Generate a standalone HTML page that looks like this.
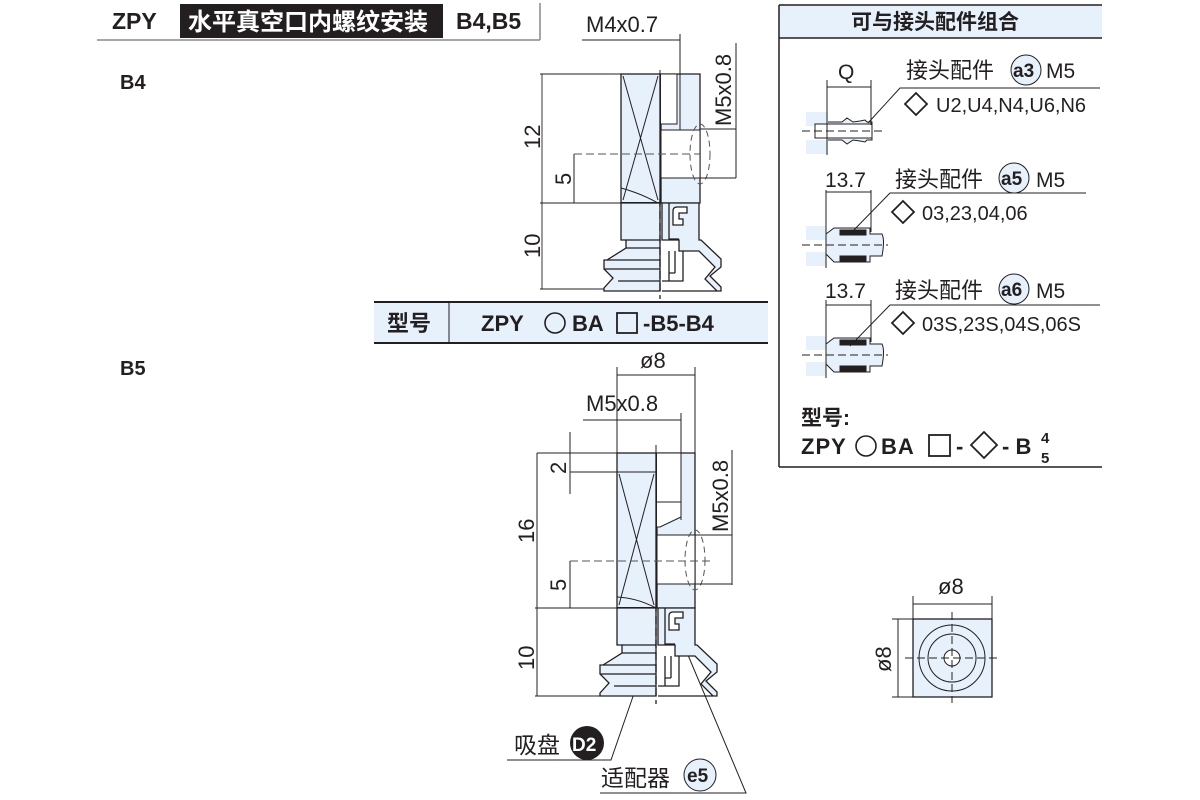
<!DOCTYPE html>
<html><head><meta charset="utf-8"><style>
html,body{margin:0;padding:0;background:#fff}
svg{display:block}
text{font-family:"Liberation Sans","Noto Sans CJK SC",sans-serif;fill:#231f20}
.b{font-weight:bold}
</style></head><body>
<svg width="1200" height="800" viewBox="0 0 1200 800" xmlns="http://www.w3.org/2000/svg">
<defs>
<g id="lower" stroke="#231f20" stroke-width="1.3" fill="#e6f1fb">
  <path d="M0,0 H39 V88 H-17 V85 L-8,75 L-17,66 V57 L-14,57 L5,45 V37 H0 Z"/>
  <line x1="5" y1="37" x2="39" y2="37"/>
  <line x1="5" y1="45" x2="39" y2="45"/>
  <line x1="-14" y1="57" x2="39" y2="57"/>
  <line x1="-17" y1="66" x2="39" y2="66"/>
  <line x1="-3" y1="78" x2="39" y2="78"/>
  <path d="M41,0 H78 V37 L80,37 L100,56 V64 L89,73 L100,84 V88 L96,88 L84,76 L94,64 L78,48 H58 V37 H41 Z" fill="#e6f1fb"/>
  <path d="M48,0 V36 H58" fill="none"/>
  <path d="M52,8 Q52,4 56,4 H66 V10 H58 V16 H62 V22 H52 Z" fill="#fff"/>
  <path d="M48,48 V78 H41 M54,48 V70 M48,70 H54 M48,78 H62 V48" fill="none"/>
  <line x1="41" y1="88" x2="96" y2="88"/>
  <line x1="39" y1="-4" x2="39" y2="96" stroke-dasharray="8,4" fill="none"/>
</g>
</defs>

<!-- header -->
<text x="112" y="29" font-size="23" class="b">ZPY</text>
<rect x="180" y="4" width="263" height="34" fill="#231f20"/>
<text x="188" y="30" font-size="24" class="b" style="fill:#fff">水平真空口内螺纹安装</text>
<text x="456" y="29" font-size="23" class="b">B4,B5</text>
<line x1="97" y1="40" x2="540" y2="40" stroke="#888" stroke-width="1.5"/>
<line x1="540" y1="3" x2="540" y2="40" stroke="#888" stroke-width="1.5"/>
<text x="120" y="89" font-size="20" class="b">B4</text>
<text x="120" y="375" font-size="20" class="b">B5</text>

<!-- ===== B4 drawing ===== -->
<g stroke="#231f20" stroke-width="1" fill="none">
  <rect x="621" y="74" width="39" height="129" fill="#e6f1fb" stroke-width="1.3"/>
  <line x1="623" y1="76" x2="658" y2="200"/><line x1="658" y1="76" x2="623" y2="200"/>
  <path d="M621,188 Q640,193 658,203" />
  <line x1="621" y1="203" x2="660" y2="203" stroke-width="2"/>
  <path d="M661,74 H700 V203 H661 Z" fill="#e6f1fb" stroke-width="1.3"/>
  <path d="M661,74 H677 V124 H661" fill="#fff"/>
  <rect x="661" y="130" width="39" height="48" fill="#fff"/>
  <line x1="661" y1="130" x2="700" y2="130"/>
  <ellipse cx="700" cy="154" rx="10" ry="30" stroke-dasharray="6,4" stroke="#555"/>
  <line x1="660" y1="70" x2="660" y2="203" stroke-dasharray="8,4"/>
  <line x1="542" y1="74" x2="542" y2="289" stroke-width="0.9"/>
  <line x1="540" y1="74" x2="621" y2="74"/><line x1="540" y1="203" x2="621" y2="203"/><line x1="540" y1="289" x2="640" y2="289"/>
  <line x1="574" y1="154" x2="574" y2="203"/>
  <line x1="574" y1="154" x2="700" y2="154" stroke-dasharray="8,4" stroke="#555"/>
  <line x1="582" y1="40" x2="680" y2="40"/><line x1="680" y1="34" x2="680" y2="130"/>
  <line x1="736" y1="43" x2="736" y2="178"/>
  <line x1="700" y1="129" x2="736" y2="129"/><line x1="700" y1="178" x2="736" y2="178"/>
</g>
<use href="#lower" x="621" y="203"/>
<text x="586" y="32" font-size="22">M4x0.7</text>
<text transform="translate(731,126) rotate(-90)" font-size="22">M5x0.8</text>
<text transform="translate(540,149) rotate(-90)" font-size="22">12</text>
<text transform="translate(571,185) rotate(-90)" font-size="22">5</text>
<text transform="translate(540,258) rotate(-90)" font-size="22">10</text>

<!-- model bar -->
<rect x="374" y="302" width="394" height="41" fill="#e6f1fb"/>
<line x1="374" y1="302" x2="768" y2="302" stroke="#231f20" stroke-width="2"/>
<line x1="374" y1="343" x2="768" y2="343" stroke="#231f20" stroke-width="2"/>
<line x1="449" y1="302" x2="449" y2="343" stroke="#231f20" stroke-width="1"/>
<text x="387" y="331" font-size="22" class="b">型号</text>
<text x="481" y="331" font-size="22" class="b">ZPY</text>
<circle cx="555" cy="323" r="10" fill="none" stroke="#231f20" stroke-width="1.6"/>
<text x="572" y="331" font-size="22" class="b">BA</text>
<rect x="617" y="313" width="20" height="20" fill="none" stroke="#231f20" stroke-width="1.8"/>
<text x="643" y="331" font-size="22" class="b">-B5-B4</text>

<!-- ===== B5 drawing ===== -->
<g stroke="#231f20" stroke-width="1" fill="none">
  <rect x="617" y="453" width="39" height="155" fill="#e6f1fb" stroke-width="1.3"/>
  <line x1="617" y1="472" x2="656" y2="472"/>
  <line x1="619" y1="474" x2="654" y2="605"/><line x1="654" y1="474" x2="619" y2="605"/>
  <path d="M617,597 Q637,598 656,608"/>
  <line x1="617" y1="608" x2="656" y2="608" stroke-width="2"/>
  <path d="M657,453 H695 V608 H657 Z" fill="#e6f1fb" stroke-width="1.3"/>
  <path d="M657,453 H681 V517 L660,527 H657" fill="#fff"/>
  <line x1="657" y1="502" x2="681" y2="502"/>
  <rect x="657" y="535" width="38" height="49" fill="#fff"/>
  <ellipse cx="695" cy="560" rx="10" ry="30" stroke-dasharray="6,4" stroke="#555"/>
  <line x1="656" y1="445" x2="656" y2="608" stroke-dasharray="8,4"/>
  <line x1="617" y1="367" x2="617" y2="453"/><line x1="695" y1="367" x2="695" y2="453"/>
  <line x1="617" y1="375" x2="695" y2="375"/>
  <line x1="583" y1="420" x2="681" y2="420"/><line x1="681" y1="413" x2="681" y2="520"/>
  <line x1="570" y1="432" x2="570" y2="494"/>
  <line x1="537" y1="453" x2="617" y2="453"/><line x1="570" y1="472" x2="617" y2="472"/>
  <line x1="537" y1="453" x2="537" y2="696"/>
  <line x1="535" y1="608" x2="617" y2="608"/><line x1="535" y1="696" x2="640" y2="696"/>
  <line x1="570" y1="561" x2="570" y2="608"/>
  <line x1="570" y1="561" x2="710" y2="561" stroke-dasharray="8,4" stroke="#555"/>
  <line x1="732" y1="450" x2="732" y2="585"/>
  <line x1="695" y1="535" x2="732" y2="535"/><line x1="695" y1="584" x2="732" y2="584"/>
  <polyline points="507,760 611,760 638,682"/>
  <polyline points="600,793 746,793 680,636"/>
</g>
<use href="#lower" x="617" y="608"/>
<text x="640" y="368" font-size="22">ø8</text>
<text x="586" y="411" font-size="22">M5x0.8</text>
<text transform="translate(728,532) rotate(-90)" font-size="22">M5x0.8</text>
<text transform="translate(566,474) rotate(-90)" font-size="22">2</text>
<text transform="translate(534,543) rotate(-90)" font-size="22">16</text>
<text transform="translate(566,591) rotate(-90)" font-size="22">5</text>
<text transform="translate(534,670) rotate(-90)" font-size="22">10</text>
<text x="514" y="753" font-size="23">吸盘</text>
<circle cx="587" cy="743" r="17" fill="#231f20"/>
<text x="572" y="751" font-size="19" class="b" style="fill:#fff">D2</text>
<text x="601" y="786" font-size="23">适配器</text>
<circle cx="700" cy="775" r="16" fill="#e6f1fb" stroke="#231f20" stroke-width="1"/>
<text x="687" y="782" font-size="19" class="b">e5</text>

<!-- ===== right panel ===== -->
<rect x="779" y="5" width="323" height="33" fill="#e6f1fb"/>
<line x1="779" y1="5" x2="1102" y2="5" stroke="#231f20" stroke-width="1.5"/>
<line x1="779" y1="38" x2="1102" y2="38" stroke="#231f20" stroke-width="1.5"/>
<line x1="779" y1="5" x2="779" y2="467" stroke="#231f20" stroke-width="1.5"/>
<line x1="779" y1="467" x2="1102" y2="467" stroke="#231f20" stroke-width="1.5"/>
<text x="851" y="29" font-size="21" class="b">可与接头配件组合</text>

<!-- a3 -->
<g stroke="#231f20" stroke-width="1" fill="none">
  <rect x="806" y="112" width="22" height="14" fill="#e6f1fb" stroke="none"/>
  <rect x="806" y="140" width="22" height="14" fill="#e6f1fb" stroke="none"/>
  <path d="M828,122 H842 L847,118 L853,122 L860,121 L865,120 L867,122 H872 V140 H867 L865,142 L860,141 L853,140 L847,144 L842,140 H828" fill="#e6f1fb"/>
  <rect x="815" y="124" width="57" height="14" fill="#fff"/>
  <line x1="802" y1="131" x2="885" y2="131" stroke-dasharray="8,4"/>
  <line x1="827" y1="80" x2="827" y2="155"/><line x1="871" y1="80" x2="871" y2="125"/>
  <line x1="827" y1="87" x2="871" y2="87"/>
  <polyline points="1100,88 900,88 868,123"/>
</g>
<text x="838" y="79" font-size="21">Q</text>
<text x="906" y="78" font-size="22">接头配件</text>
<circle cx="1026" cy="70" r="15" fill="#e6f1fb" stroke="#231f20"/>
<text x="1013" y="77" font-size="19" class="b">a3</text>
<text x="1046" y="78" font-size="21">M5</text>
<path d="M905,104 L916,93 L927,104 L916,115 Z" fill="none" stroke="#231f20" stroke-width="1.8"/>
<text x="936" y="112" font-size="20">U2,U4,N4,U6,N6</text>

<!-- a5 / a6 -->
<g stroke="#231f20" stroke-width="1" fill="none">
  <rect x="806" y="226" width="20" height="14" fill="#e6f1fb" stroke="none"/>
  <rect x="806" y="252" width="20" height="14" fill="#e6f1fb" stroke="none"/>
  <path d="M826,234 L834,228 H870 V234 H882 Q885,240 882,256 H870 V262 H834 L826,254 Z" fill="#e6f1fb"/>
  <rect x="840" y="230" width="26" height="5" fill="#231f20"/><rect x="840" y="256" width="26" height="5" fill="#231f20"/>
  <line x1="802" y1="245" x2="888" y2="245" stroke-dasharray="8,4"/>
  <line x1="826" y1="190" x2="826" y2="268"/><line x1="871" y1="190" x2="871" y2="232"/>
  <line x1="826" y1="192" x2="871" y2="192"/>
  <polyline points="1086,193 890,193 850,234"/>
  <rect x="806" y="336" width="20" height="14" fill="#e6f1fb" stroke="none"/>
  <rect x="806" y="362" width="20" height="14" fill="#e6f1fb" stroke="none"/>
  <path d="M826,344 L834,338 H870 V344 H882 Q885,350 882,366 H870 V372 H834 L826,364 Z" fill="#e6f1fb"/>
  <rect x="840" y="340" width="26" height="5" fill="#231f20"/><rect x="840" y="366" width="26" height="5" fill="#231f20"/>
  <line x1="802" y1="355" x2="888" y2="355" stroke-dasharray="8,4"/>
  <line x1="826" y1="300" x2="826" y2="378"/><line x1="871" y1="300" x2="871" y2="342"/>
  <line x1="826" y1="305" x2="871" y2="305"/>
  <polyline points="1100,305 890,305 850,346"/>
</g>
<text x="825" y="187" font-size="21">13.7</text>
<text x="895" y="187" font-size="22">接头配件</text>
<circle cx="1014" cy="178" r="15" fill="#e6f1fb" stroke="#231f20"/>
<text x="1001" y="185" font-size="19" class="b">a5</text>
<text x="1036" y="187" font-size="21">M5</text>
<path d="M892,212 L903,201 L914,212 L903,223 Z" fill="none" stroke="#231f20" stroke-width="1.8"/>
<text x="922" y="220" font-size="20">03,23,04,06</text>
<text x="825" y="298" font-size="21">13.7</text>
<text x="895" y="298" font-size="22">接头配件</text>
<circle cx="1014" cy="289" r="15" fill="#e6f1fb" stroke="#231f20"/>
<text x="1001" y="296" font-size="19" class="b">a6</text>
<text x="1036" y="298" font-size="21">M5</text>
<path d="M892,323 L903,312 L914,323 L903,334 Z" fill="none" stroke="#231f20" stroke-width="1.8"/>
<text x="922" y="331" font-size="20">03S,23S,04S,06S</text>

<text x="801" y="425" font-size="21" class="b">型号:</text>
<text x="801" y="454" font-size="22" class="b" letter-spacing="1">ZPY</text>
<circle cx="866" cy="446" r="10" fill="none" stroke="#231f20" stroke-width="1.6"/>
<text x="881" y="454" font-size="22" class="b" letter-spacing="1">BA</text>
<rect x="929" y="435" width="21" height="21" fill="none" stroke="#231f20" stroke-width="1.8"/>
<text x="956" y="454" font-size="22" class="b">-</text>
<path d="M971,445 L984,432 L997,445 L984,458 Z" fill="none" stroke="#231f20" stroke-width="1.8"/>
<text x="1002" y="454" font-size="22" class="b">- B</text>
<text x="1041" y="443" font-size="15" class="b">4</text>
<text x="1041" y="463" font-size="15" class="b">5</text>

<!-- bottom view -->
<rect x="913" y="619" width="79" height="78" fill="#e6f1fb" stroke="#231f20" stroke-width="1.3"/>
<g stroke="#231f20" stroke-width="1" fill="none">
  <circle cx="952" cy="658" r="33"/><circle cx="952" cy="658" r="24"/>
  <circle cx="952" cy="658" r="8" fill="#fff"/>
  <line x1="905" y1="658" x2="998" y2="658" stroke-dasharray="8,4"/>
  <line x1="952" y1="612" x2="952" y2="703" stroke-dasharray="8,4"/>
  <line x1="913" y1="596" x2="913" y2="619"/><line x1="992" y1="596" x2="992" y2="619"/>
  <line x1="913" y1="604" x2="992" y2="604"/>
  <line x1="892" y1="619" x2="913" y2="619"/><line x1="892" y1="697" x2="913" y2="697"/>
  <line x1="898" y1="619" x2="898" y2="697"/>
</g>
<text x="938" y="594" font-size="22">ø8</text>
<text transform="translate(891,672) rotate(-90)" font-size="22">ø8</text>
</svg>
</body></html>
